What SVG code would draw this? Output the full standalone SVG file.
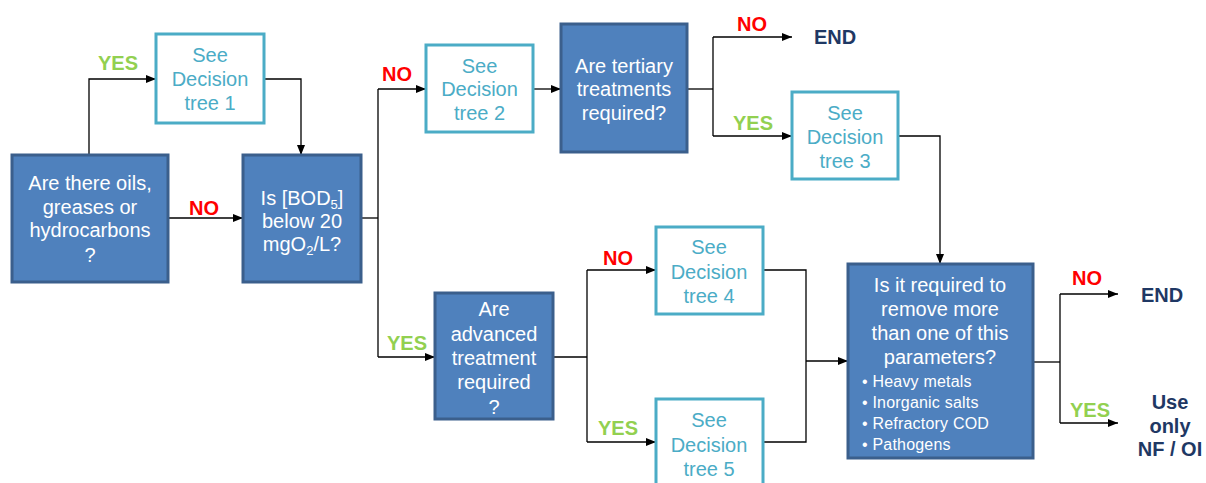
<svg xmlns="http://www.w3.org/2000/svg" width="1206" height="483" viewBox="0 0 1206 483">
  <style>
    .q { fill: #4F81BD; stroke: #3B5F8C; stroke-width: 3; }
    .dt { fill: #FFFFFF; stroke: #4BACC6; stroke-width: 3; }
    .qt { font-family: "Liberation Sans", Arial, sans-serif; font-size: 20px; fill: #FFFFFF; text-anchor: middle; }
    .dtt { font-family: "Liberation Sans", Arial, sans-serif; font-size: 20px; fill: #4BACC6; text-anchor: middle; }
    .bl { font-family: "Liberation Sans", Arial, sans-serif; font-size: 16px; fill: #FFFFFF; letter-spacing: 0.2px; }
    .yes { font-family: "Liberation Sans", Arial, sans-serif; font-size: 20px; font-weight: bold; fill: #92D050; text-anchor: middle; }
    .no { font-family: "Liberation Sans", Arial, sans-serif; font-size: 20px; font-weight: bold; fill: #FF0000; text-anchor: middle; }
    .end { font-family: "Liberation Sans", Arial, sans-serif; font-size: 20px; font-weight: bold; fill: #1F3864; text-anchor: middle; }
    .c { fill: none; stroke: #000000; stroke-width: 1.3; }
  </style>
  <defs>
    <marker id="ah" viewBox="0 0 10 10" refX="10" refY="5" markerWidth="10" markerHeight="10" markerUnits="userSpaceOnUse" orient="auto">
      <path d="M0,1 L10,5 L0,9 Z" fill="#000000"/>
    </marker>
  </defs>

  <!-- connectors -->
  <g id="connectors">
    <path class="c" d="M89,155 V79 H156" marker-end="url(#ah)"/>
    <path class="c" d="M168,218 H243" marker-end="url(#ah)"/>
    <path class="c" d="M264,79 H301 V155" marker-end="url(#ah)"/>
    <path class="c" d="M361,218 H378"/>
    <path class="c" d="M378,89 V357"/>
    <path class="c" d="M378,89 H426" marker-end="url(#ah)"/>
    <path class="c" d="M378,357 H435" marker-end="url(#ah)"/>
    <path class="c" d="M533,89 H561" marker-end="url(#ah)"/>
    <path class="c" d="M687,89 H713"/>
    <path class="c" d="M713,37 V136"/>
    <path class="c" d="M713,37 H792" marker-end="url(#ah)"/>
    <path class="c" d="M713,136 H792" marker-end="url(#ah)"/>
    <path class="c" d="M898,136 H940 V264" marker-end="url(#ah)"/>
    <path class="c" d="M553,357 H587"/>
    <path class="c" d="M587,270 V442"/>
    <path class="c" d="M587,270 H656" marker-end="url(#ah)"/>
    <path class="c" d="M587,442 H656" marker-end="url(#ah)"/>
    <path class="c" d="M763,270 H806 V442 H763"/>
    <path class="c" d="M806,361 H848" marker-end="url(#ah)"/>
    <path class="c" d="M1033,362 H1060"/>
    <path class="c" d="M1060,294 V423"/>
    <path class="c" d="M1060,294 H1118" marker-end="url(#ah)"/>
    <path class="c" d="M1060,423 H1118" marker-end="url(#ah)"/>
  </g>

  <!-- branch labels -->
  <g id="labels">
    <text class="yes" x="118" y="70">YES</text>
    <text class="no" x="204" y="215">NO</text>
    <text class="no" x="397" y="81">NO</text>
    <text class="yes" x="407" y="350">YES</text>
    <text class="no" x="752" y="31">NO</text>
    <text class="yes" x="753" y="130">YES</text>
    <text class="no" x="618" y="265">NO</text>
    <text class="yes" x="618" y="435">YES</text>
    <text class="no" x="1087" y="285">NO</text>
    <text class="yes" x="1090" y="417">YES</text>
  </g>

  <g id="oils">
    <rect class="q" x="12" y="155" width="156" height="127"/>
    <text class="qt" x="90" y="190">Are there oils,</text>
    <text class="qt" x="90" y="214">greases or</text>
    <text class="qt" x="90" y="237">hydrocarbons</text>
    <text class="qt" x="90" y="262">?</text>
  </g>

  <g id="tree1">
    <rect class="dt" x="156" y="34" width="108" height="89"/>
    <text class="dtt" x="210" y="62">See</text>
    <text class="dtt" x="210" y="86">Decision</text>
    <text class="dtt" x="210" y="110">tree 1</text>
  </g>

  <g id="bod">
    <rect class="q" x="243" y="155" width="118" height="127"/>
    <text class="qt" x="302" y="205">Is [BOD<tspan font-size="13" dy="4">5</tspan><tspan dy="-4">]</tspan></text>
    <text class="qt" x="302" y="228">below 20</text>
    <text class="qt" x="302" y="251">mgO<tspan font-size="13" dy="4">2</tspan><tspan dy="-4">/L?</tspan></text>
  </g>

  <g id="tree2">
    <rect class="dt" x="426" y="45" width="107" height="87"/>
    <text class="dtt" x="479.5" y="73">See</text>
    <text class="dtt" x="479.5" y="96">Decision</text>
    <text class="dtt" x="479.5" y="120">tree 2</text>
  </g>

  <g id="tertiary">
    <rect class="q" x="561" y="24" width="126" height="128"/>
    <text class="qt" x="624" y="73">Are tertiary</text>
    <text class="qt" x="624" y="96">treatments</text>
    <text class="qt" x="624" y="120">required?</text>
  </g>

  <g id="end1">
    <text class="end" x="835" y="44">END</text>
  </g>

  <g id="tree3">
    <rect class="dt" x="792" y="92" width="106" height="87"/>
    <text class="dtt" x="845" y="120">See</text>
    <text class="dtt" x="845" y="144">Decision</text>
    <text class="dtt" x="845" y="168">tree 3</text>
  </g>

  <g id="advanced">
    <rect class="q" x="435" y="293" width="118" height="126"/>
    <text class="qt" x="494" y="316">Are</text>
    <text class="qt" x="494" y="341">advanced</text>
    <text class="qt" x="494" y="365">treatment</text>
    <text class="qt" x="494" y="389">required</text>
    <text class="qt" x="494" y="414">?</text>
  </g>

  <g id="tree4">
    <rect class="dt" x="656" y="227" width="107" height="87"/>
    <text class="dtt" x="709" y="254">See</text>
    <text class="dtt" x="709" y="279">Decision</text>
    <text class="dtt" x="709" y="303">tree 4</text>
  </g>

  <g id="tree5">
    <rect class="dt" x="656" y="399" width="107" height="90"/>
    <text class="dtt" x="709" y="427">See</text>
    <text class="dtt" x="709" y="452">Decision</text>
    <text class="dtt" x="709" y="476">tree 5</text>
  </g>

  <g id="parameters">
    <rect class="q" x="848" y="264" width="185" height="194"/>
    <text class="qt" x="940" y="292">Is it required to</text>
    <text class="qt" x="940" y="316">remove more</text>
    <text class="qt" x="940" y="340">than one of this</text>
    <text class="qt" x="940" y="364">parameters?</text>
    <text class="bl" x="862" y="387">• Heavy  metals</text>
    <text class="bl" x="862" y="408">• Inorganic salts</text>
    <text class="bl" x="862" y="429">• Refractory COD</text>
    <text class="bl" x="862" y="450">• Pathogens</text>
  </g>

  <g id="end2">
    <text class="end" x="1162" y="302">END</text>
  </g>

  <g id="nf-oi">
    <text class="end" x="1170" y="409">Use</text>
    <text class="end" x="1170" y="433">only</text>
    <text class="end" x="1170" y="456">NF / OI</text>
  </g>
</svg>
